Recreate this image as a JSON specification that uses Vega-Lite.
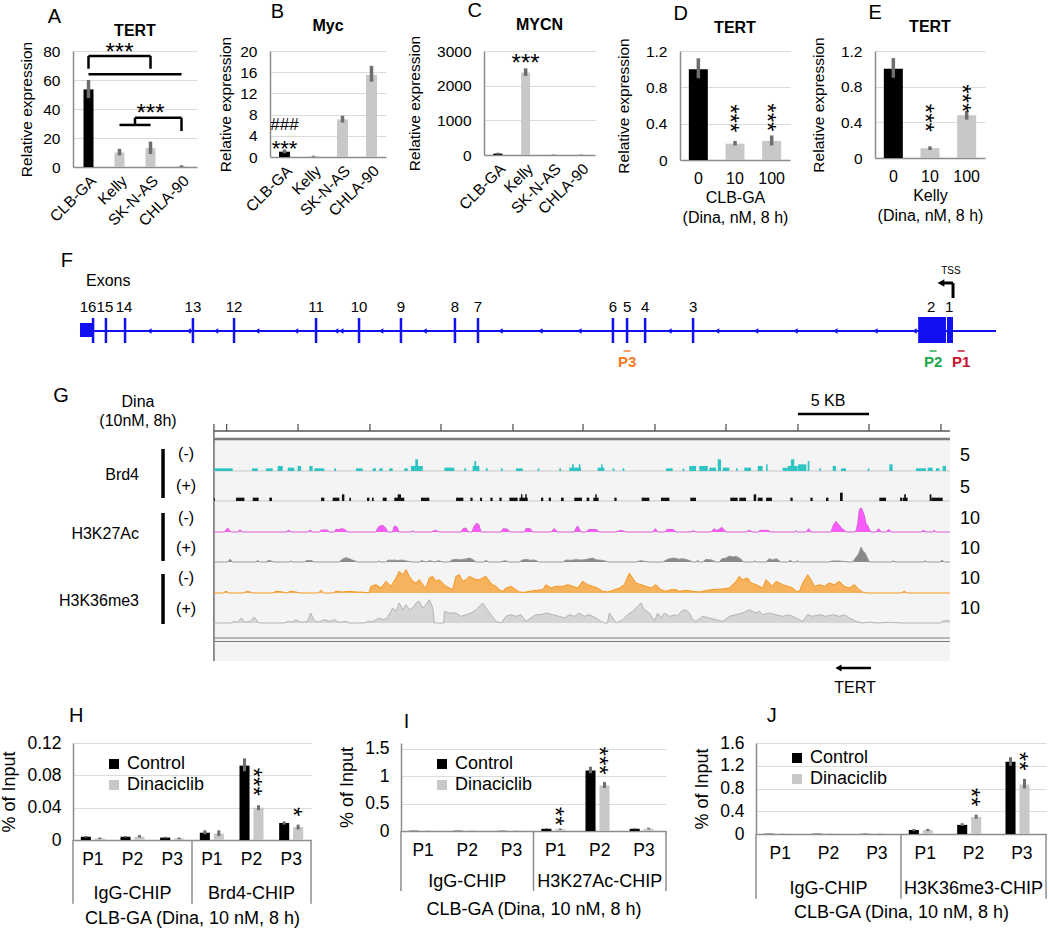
{
"$schema": "https://vega.github.io/schema/vega-lite/v6.json",
"padding": {"left": 0, "top": 1, "right": 0, "bottom": 0},
"background": "white",
"spacing": 10,
"resolve": {"scale": {"color": "independent"}, "legend": {"color": "independent"}},
"config": {
 "font": "Liberation Sans",
 "view": {"stroke": null},
 "axis": {"labelFont": "Liberation Sans", "titleFont": "Liberation Sans", "labelFontSize": 15.5, "titleFontSize": 15.5, "titleFontWeight": "normal", "labelColor": "#000", "titleColor": "#000", "ticks": false, "domainColor": "#8c8c8c", "domainWidth": 1.5, "gridColor": "#dadada", "gridWidth": 1, "labelPadding": 13, "titlePadding": 8},
 "axisX": {"grid": false},
 "axisY": {"grid": true, "tickCount": 20, "labelOverlap": false},
 "title": {"font": "Liberation Sans", "fontSize": 16, "fontWeight": "bold", "color": "#000"},
 "text": {"font": "Liberation Sans", "color": "#000"},
 "legend": {"labelFont": "Liberation Sans", "labelColor": "#000"}
},
"datasets": {
 "a": [{"cell":"CLB-GA","m":53.5,"lo":47.5,"hi":60},{"cell":"Kelly","m":10,"lo":8,"hi":12.5},{"cell":"SK-N-AS","m":13,"lo":9,"hi":17.5},{"cell":"CHLA-90","m":0.6,"lo":0.1,"hi":1.2}],
 "a_hl": [{"c1":"CLB-GA","c2":"SK-N-AS","y":76.6},{"c1":"CLB-GA","c2":"CHLA-90","y":63.9},{"c1":"Kelly","c2":"SK-N-AS","y":29}],
 "a_hl2": [{"c1":"Kelly","c2":"CHLA-90","y":34}],
 "a_vl": [{"c":"CLB-GA","y":67.8,"y2":76.6},{"c":"SK-N-AS","y":67.8,"y2":76.6},{"c":"CHLA-90","y":24.8,"y2":34}],
 "a_vl2": [{"c":"Kelly","y":29,"y2":34}],
 "a_s": [{"c":"Kelly","y":82,"t":"***"},{"c":"SK-N-AS","y":40,"t":"***"}],
 "b": [{"cell":"CLB-GA","m":1,"lo":0.7,"hi":1.4},{"cell":"Kelly","m":0.15,"lo":0.05,"hi":0.25},{"cell":"SK-N-AS","m":7.1,"lo":6.5,"hi":7.8},{"cell":"CHLA-90","m":15.5,"lo":14.2,"hi":17.2}],
 "b_s1": [{"c":"CLB-GA","y":6.1,"t":"###"}],
 "b_s2": [{"c":"CLB-GA","y":2.4,"t":"***"}],
 "c": [{"cell":"CLB-GA","m":40,"lo":15,"hi":65},{"cell":"Kelly","m":2380,"lo":2280,"hi":2500},{"cell":"SK-N-AS","m":6,"lo":1,"hi":12},{"cell":"CHLA-90","m":6,"lo":1,"hi":12}],
 "c_s": [{"c":"Kelly","y":2770,"t":"***"}],
 "d": [{"dose":"0","m":1.0,"lo":0.9,"hi":1.12},{"dose":"10","m":0.18,"lo":0.16,"hi":0.21},{"dose":"100","m":0.21,"lo":0.16,"hi":0.27}],
 "d_s": [{"dose":"10","y":0.46,"t":"***"},{"dose":"100","y":0.47,"t":"***"}],
 "e": [{"dose":"0","m":1.0,"lo":0.9,"hi":1.12},{"dose":"10","m":0.11,"lo":0.09,"hi":0.13},{"dose":"100","m":0.48,"lo":0.43,"hi":0.53}],
 "e_s": [{"dose":"10","y":0.45,"t":"***"},{"dose":"100","y":0.67,"t":"***"}],
 "h": [
  {"cat":"IgG-P1","cond":"Control","m":0.004,"lo":0.003,"hi":0.005},{"cat":"IgG-P1","cond":"Dinaciclib","m":0.002,"lo":0.001,"hi":0.003},
  {"cat":"IgG-P2","cond":"Control","m":0.004,"lo":0.003,"hi":0.005},{"cat":"IgG-P2","cond":"Dinaciclib","m":0.004,"lo":0.003,"hi":0.006},
  {"cat":"IgG-P3","cond":"Control","m":0.003,"lo":0.002,"hi":0.004},{"cat":"IgG-P3","cond":"Dinaciclib","m":0.002,"lo":0.001,"hi":0.003},
  {"cat":"Brd4-P1","cond":"Control","m":0.009,"lo":0.007,"hi":0.012},{"cat":"Brd4-P1","cond":"Dinaciclib","m":0.008,"lo":0.005,"hi":0.012},
  {"cat":"Brd4-P2","cond":"Control","m":0.092,"lo":0.085,"hi":0.101},{"cat":"Brd4-P2","cond":"Dinaciclib","m":0.04,"lo":0.037,"hi":0.043},
  {"cat":"Brd4-P3","cond":"Control","m":0.021,"lo":0.019,"hi":0.023},{"cat":"Brd4-P3","cond":"Dinaciclib","m":0.016,"lo":0.013,"hi":0.019}],
 "h_s": [{"cat":"Brd4-P2","cond":"Dinaciclib","y":0.072,"t":"***"},{"cat":"Brd4-P3","cond":"Dinaciclib","y":0.035,"t":"*"}],
 "h_g": [{"cat":"IgG-P2","g":"IgG-CHIP"},{"cat":"Brd4-P2","g":"Brd4-CHIP"}],
 "h_sep": [{"cat":"IgG-P1"},{"cat":"Brd4-P1"}],
 "h_sepr": [{"cat":"Brd4-P3"}],
 "i": [
  {"cat":"IgG-P1","cond":"Control","m":0.004,"lo":0.002,"hi":0.006},{"cat":"IgG-P1","cond":"Dinaciclib","m":0.003,"lo":0.001,"hi":0.005},
  {"cat":"IgG-P2","cond":"Control","m":0.004,"lo":0.002,"hi":0.006},{"cat":"IgG-P2","cond":"Dinaciclib","m":0.003,"lo":0.001,"hi":0.005},
  {"cat":"IgG-P3","cond":"Control","m":0.003,"lo":0.001,"hi":0.005},{"cat":"IgG-P3","cond":"Dinaciclib","m":0.003,"lo":0.001,"hi":0.005},
  {"cat":"H3K27Ac-P1","cond":"Control","m":0.04,"lo":0.03,"hi":0.05},{"cat":"H3K27Ac-P1","cond":"Dinaciclib","m":0.03,"lo":0.02,"hi":0.045},
  {"cat":"H3K27Ac-P2","cond":"Control","m":1.1,"lo":1.05,"hi":1.17},{"cat":"H3K27Ac-P2","cond":"Dinaciclib","m":0.83,"lo":0.78,"hi":0.89},
  {"cat":"H3K27Ac-P3","cond":"Control","m":0.04,"lo":0.03,"hi":0.05},{"cat":"H3K27Ac-P3","cond":"Dinaciclib","m":0.04,"lo":0.03,"hi":0.06}],
 "i_s": [{"cat":"H3K27Ac-P1","cond":"Dinaciclib","y":0.27,"t":"**"},{"cat":"H3K27Ac-P2","cond":"Dinaciclib","y":1.28,"t":"***"}],
 "i_g": [{"cat":"IgG-P2","g":"IgG-CHIP"},{"cat":"H3K27Ac-P2","g":"H3K27Ac-CHIP"}],
 "i_sep": [{"cat":"IgG-P1"},{"cat":"H3K27Ac-P1"}],
 "i_sepr": [{"cat":"H3K27Ac-P3"}],
 "j": [
  {"cat":"IgG-P1","cond":"Control","m":0.004,"lo":0.002,"hi":0.006},{"cat":"IgG-P1","cond":"Dinaciclib","m":0.003,"lo":0.001,"hi":0.005},
  {"cat":"IgG-P2","cond":"Control","m":0.004,"lo":0.002,"hi":0.006},{"cat":"IgG-P2","cond":"Dinaciclib","m":0.003,"lo":0.001,"hi":0.005},
  {"cat":"IgG-P3","cond":"Control","m":0.003,"lo":0.001,"hi":0.005},{"cat":"IgG-P3","cond":"Dinaciclib","m":0.003,"lo":0.001,"hi":0.005},
  {"cat":"H3K36me3-P1","cond":"Control","m":0.07,"lo":0.05,"hi":0.09},{"cat":"H3K36me3-P1","cond":"Dinaciclib","m":0.07,"lo":0.05,"hi":0.09},
  {"cat":"H3K36me3-P2","cond":"Control","m":0.16,"lo":0.14,"hi":0.19},{"cat":"H3K36me3-P2","cond":"Dinaciclib","m":0.3,"lo":0.27,"hi":0.34},
  {"cat":"H3K36me3-P3","cond":"Control","m":1.27,"lo":1.2,"hi":1.35},{"cat":"H3K36me3-P3","cond":"Dinaciclib","m":0.87,"lo":0.8,"hi":0.97}],
 "j_s": [{"cat":"H3K36me3-P2","cond":"Dinaciclib","y":0.65,"t":"**"},{"cat":"H3K36me3-P3","cond":"Dinaciclib","y":1.28,"t":"**"}],
 "j_g": [{"cat":"IgG-P2","g":"IgG-CHIP"},{"cat":"H3K36me3-P2","g":"H3K36me3-CHIP"}],
 "j_sep": [{"cat":"IgG-P1"},{"cat":"H3K36me3-P1"}],
 "j_sepr": [{"cat":"H3K36me3-P3"}],
 "gene_f": [{"kb":0,"kb2":44.12}],
 "gene_g": [{"kb":0,"kb2":41.9}],
 "exons": [{"kb":0.63,"n":"16"},{"kb":1.25,"n":"15"},{"kb":2.17,"n":"14"},{"kb":5.44,"n":"13"},{"kb":7.42,"n":"12"},{"kb":11.37,"n":"11"},{"kb":13.44,"n":"10"},{"kb":15.46,"n":"9"},{"kb":18.06,"n":"8"},{"kb":19.17,"n":"7"},{"kb":25.67,"n":"6"},{"kb":26.35,"n":"5"},{"kb":27.22,"n":"4"},{"kb":29.53,"n":"3"}],
 "exon_lbl": [{"kb":0.39,"n":"16"},{"kb":1.2,"n":"15"},{"kb":2.12,"n":"14"},{"kb":5.44,"n":"13"},{"kb":7.42,"n":"12"},{"kb":11.37,"n":"11"},{"kb":13.44,"n":"10"},{"kb":15.46,"n":"9"},{"kb":18.06,"n":"8"},{"kb":19.17,"n":"7"},{"kb":25.67,"n":"6"},{"kb":26.35,"n":"5"},{"kb":27.22,"n":"4"},{"kb":29.53,"n":"3"},{"kb":41.0,"n":"2"},{"kb":41.86,"n":"1"}],
 "utr": [{"kb":0,"kb2":0.63}],
 "cds": [{"kb":40.37,"kb2":41.71},{"kb":41.76,"kb2":42.05}],
 "chev": [{"kb":3.34},{"kb":5.23},{"kb":6.55},{"kb":8.53},{"kb":10.4},{"kb":12.33},{"kb":12.58},{"kb":14.5},{"kb":16.59},{"kb":20.25},{"kb":22.17},{"kb":24.05},{"kb":28.39},{"kb":30.68},{"kb":32.56},{"kb":34.46},{"kb":36.38},{"kb":38.31},{"kb":40.19}],
 "f_letter": [{"kb":-0.63,"t":"F"}],
 "f_exons": [{"kb":0.29,"t":"Exons"}],
 "tss": [{"kb":42.05,"kb2":41.6}],
 "tss_head": [{"kb":41.47}],
 "tss_lbl": [{"kb":41.95,"t":"TSS"}],
 "probes": [{"kb":26.35,"p":"P3"},{"kb":41.09,"p":"P2"},{"kb":42.44,"p":"P1"}],
 "g_bg": [{"kb":-3.92,"kb2":47.55,"y":25.7,"y2":3.5}],
 "g_black": [{"kb":-7.48,"kb2":-7.48,"y":24.7,"y2":19.8},{"kb":-7.48,"kb2":-7.48,"y":18.3,"y2":13.5},{"kb":-7.48,"kb2":-7.48,"y":12.2,"y2":7.2}],
 "g_black2": [{"kb":36.92,"kb2":41.89,"y":28.2,"y2":28.2},{"kb":39.9,"kb2":42.03,"y":2.8,"y2":2.8}],
 "g_ruler": [{"kb":-3.92,"kb2":47.55,"y":26.5,"y2":26.5},{"kb":-3.92,"kb2":-3.92,"y":27.2,"y2":3.5},
  {"kb":-3.03,"kb2":-3.03,"y":27.2,"y2":26.5},{"kb":1.96,"kb2":1.96,"y":27.2,"y2":26.5},{"kb":6.99,"kb2":6.99,"y":27.2,"y2":26.5},{"kb":11.96,"kb2":11.96,"y":27.2,"y2":26.5},{"kb":16.99,"kb2":16.99,"y":27.2,"y2":26.5},{"kb":21.89,"kb2":21.89,"y":27.2,"y2":26.5},{"kb":26.92,"kb2":26.92,"y":27.2,"y2":26.5},{"kb":31.89,"kb2":31.89,"y":27.2,"y2":26.5},{"kb":36.92,"kb2":36.92,"y":27.2,"y2":26.5},{"kb":41.89,"kb2":41.89,"y":27.2,"y2":26.5},{"kb":46.92,"kb2":46.92,"y":27.2,"y2":26.5}],
 "g_top": [{"kb":-3.92,"kb2":47.55,"y":25.7,"y2":25.7}],
 "g_bottom": [{"kb":-3.92,"kb2":47.55,"y":5.8,"y2":5.8},{"kb":-3.92,"kb2":47.55,"y":5.45,"y2":5.45}],
 "g_base": [{"kb":-3.92,"kb2":47.55,"y":22.5,"y2":22.5},{"kb":-3.92,"kb2":47.55,"y":19.5,"y2":19.5}],
 "g_head": [{"kb":39.75,"y":2.8}],
 "g_letter": [{"kb":-14.62,"y":30.0,"t":"G"}],
 "g_tc": [{"kb":-9.23,"y":29.4,"t":"Dina"},{"kb":-9.23,"y":27.5,"t":"(10nM, 8h)"},{"kb":39.02,"y":29.5,"t":"5 KB"},{"kb":-5.87,"y":24.2,"t":"(-)"},{"kb":-5.87,"y":21.0,"t":"(+)"},{"kb":-5.87,"y":17.8,"t":"(-)"},{"kb":-5.87,"y":14.8,"t":"(+)"},{"kb":-5.87,"y":11.8,"t":"(-)"},{"kb":-5.87,"y":8.7,"t":"(+)"},{"kb":40.91,"y":0.8,"t":"TERT"}],
 "g_tr": [{"kb":-9.16,"y":22.1,"t":"Brd4"},{"kb":-9.16,"y":16.2,"t":"H3K27Ac"},{"kb":-9.16,"y":9.5,"t":"H3K36me3"}],
 "g_scale": [{"kb":48.25,"y":24.0,"t":"5"},{"kb":48.25,"y":20.8,"t":"5"},{"kb":48.25,"y":17.7,"t":"10"},{"kb":48.25,"y":14.7,"t":"10"},{"kb":48.25,"y":11.7,"t":"10"},{"kb":48.25,"y":8.7,"t":"10"}],
 "b4n": [{"kb":-3.89,"kb2":-2.61,"v":0.48},{"kb":-1.26,"kb2":-0.86,"v":0.48},{"kb":-0.28,"kb2":0.19,"v":0.48},{"kb":0.54,"kb2":0.89,"v":0.9},{"kb":1.24,"kb2":1.7,"v":0.6},{"kb":1.93,"kb2":2.17,"v":0.9},{"kb":2.75,"kb2":2.98,"v":0.9},{"kb":3.1,"kb2":3.8,"v":0.48},{"kb":4.5,"kb2":4.62,"v":0.48},{"kb":6.01,"kb2":6.48,"v":0.48},{"kb":7.18,"kb2":7.41,"v":0.48},{"kb":7.65,"kb2":7.88,"v":0.48},{"kb":8.34,"kb2":8.58,"v":0.48},{"kb":9.39,"kb2":9.63,"v":0.48},{"kb":9.86,"kb2":10.68,"v":0.9},{"kb":10.16,"kb2":10.35,"v":2.08},{"kb":12.19,"kb2":12.89,"v":0.6},{"kb":13.59,"kb2":13.71,"v":0.48},{"kb":14.17,"kb2":14.64,"v":0.9},{"kb":14.29,"kb2":14.41,"v":1.79},{"kb":15.1,"kb2":15.22,"v":0.48},{"kb":16.15,"kb2":16.27,"v":0.48},{"kb":17.2,"kb2":17.67,"v":0.48},{"kb":18.72,"kb2":18.83,"v":0.48},{"kb":20.23,"kb2":20.35,"v":0.48},{"kb":20.93,"kb2":21.75,"v":0.6},{"kb":21.12,"kb2":21.24,"v":1.19},{"kb":21.59,"kb2":21.7,"v":1.19},{"kb":22.91,"kb2":23.38,"v":0.6},{"kb":23.15,"kb2":23.26,"v":1.19},{"kb":23.96,"kb2":24.08,"v":0.48},{"kb":24.66,"kb2":24.78,"v":0.48},{"kb":27.69,"kb2":28.16,"v":0.48},{"kb":28.86,"kb2":28.97,"v":0.48},{"kb":29.32,"kb2":29.79,"v":0.9},{"kb":30.02,"kb2":30.61,"v":0.9},{"kb":30.72,"kb2":31.19,"v":0.6},{"kb":31.31,"kb2":31.54,"v":2.08},{"kb":31.66,"kb2":32.12,"v":0.6},{"kb":32.59,"kb2":32.7,"v":0.48},{"kb":33.17,"kb2":33.64,"v":0.6},{"kb":34.11,"kb2":34.45,"v":0.9},{"kb":34.69,"kb2":34.8,"v":1.19},{"kb":35.85,"kb2":36.2,"v":0.6},{"kb":36.2,"kb2":36.9,"v":0.9},{"kb":36.43,"kb2":36.66,"v":2.08},{"kb":36.92,"kb2":37.51,"v":1.19},{"kb":37.6,"kb2":37.72,"v":1.79},{"kb":38.42,"kb2":38.53,"v":0.48},{"kb":39.35,"kb2":39.58,"v":0.9},{"kb":39.93,"kb2":40.28,"v":0.48},{"kb":41.8,"kb2":41.91,"v":0.48},{"kb":43.31,"kb2":43.54,"v":1.19},{"kb":45.17,"kb2":45.87,"v":0.48},{"kb":45.99,"kb2":46.34,"v":0.6},{"kb":46.57,"kb2":46.81,"v":0.48},{"kb":47.04,"kb2":47.27,"v":0.9}],
 "b4p": [{"kb":-3.92,"kb2":-3.85,"v":0.48},{"kb":-2.38,"kb2":-1.79,"v":0.6},{"kb":-1.21,"kb2":-0.79,"v":0.6},{"kb":-0.05,"kb2":0.14,"v":0.6},{"kb":3.57,"kb2":3.8,"v":0.6},{"kb":4.38,"kb2":4.85,"v":0.6},{"kb":5.03,"kb2":5.2,"v":1.19},{"kb":5.55,"kb2":5.66,"v":0.6},{"kb":6.78,"kb2":6.95,"v":0.6},{"kb":7.13,"kb2":7.25,"v":0.6},{"kb":7.88,"kb2":8.16,"v":0.6},{"kb":8.69,"kb2":9.39,"v":0.6},{"kb":8.93,"kb2":9.16,"v":1.19},{"kb":10.56,"kb2":11.14,"v":0.6},{"kb":13.01,"kb2":13.52,"v":0.6},{"kb":14.01,"kb2":14.17,"v":0.6},{"kb":14.69,"kb2":14.83,"v":0.6},{"kb":15.41,"kb2":15.57,"v":0.6},{"kb":16.04,"kb2":16.2,"v":0.6},{"kb":16.74,"kb2":17.32,"v":0.6},{"kb":17.44,"kb2":18.02,"v":0.6},{"kb":17.55,"kb2":17.65,"v":1.19},{"kb":17.85,"kb2":17.95,"v":1.19},{"kb":18.95,"kb2":19.11,"v":0.6},{"kb":19.49,"kb2":19.65,"v":0.6},{"kb":20.35,"kb2":20.54,"v":0.6},{"kb":21.28,"kb2":21.82,"v":0.6},{"kb":22.14,"kb2":22.33,"v":0.6},{"kb":22.61,"kb2":22.98,"v":0.6},{"kb":22.75,"kb2":22.85,"v":1.19},{"kb":24.08,"kb2":24.24,"v":0.6},{"kb":25.99,"kb2":26.53,"v":0.6},{"kb":27.34,"kb2":27.93,"v":0.6},{"kb":29.39,"kb2":29.79,"v":0.6},{"kb":32.19,"kb2":32.7,"v":0.6},{"kb":32.82,"kb2":33.29,"v":0.6},{"kb":33.82,"kb2":34.0,"v":1.19},{"kb":34.11,"kb2":34.45,"v":0.6},{"kb":34.69,"kb2":35.1,"v":0.6},{"kb":36.39,"kb2":36.55,"v":0.6},{"kb":37.79,"kb2":37.95,"v":0.6},{"kb":38.88,"kb2":39.05,"v":0.6},{"kb":39.86,"kb2":40.05,"v":1.49},{"kb":42.61,"kb2":43.08,"v":0.6},{"kb":44.06,"kb2":44.2,"v":0.6},{"kb":44.24,"kb2":44.59,"v":0.6},{"kb":44.35,"kb2":44.47,"v":1.19},{"kb":46.13,"kb2":46.25,"v":1.19},{"kb":46.25,"kb2":47.04,"v":0.6}],
 "k27n": [{"kb":-3.92,"v":0},{"kb":-3.19,"v":0},{"kb":-2.96,"v":1.43},{"kb":-2.73,"v":0},{"kb":-2.26,"v":0},{"kb":-2.1,"v":0.71},{"kb":-1.91,"v":0},{"kb":1.12,"v":0},{"kb":1.31,"v":0.6},{"kb":1.47,"v":0},{"kb":2.63,"v":0},{"kb":2.82,"v":0.6},{"kb":2.98,"v":0},{"kb":3.45,"v":0},{"kb":3.6,"v":0.71},{"kb":4.0,"v":0.71},{"kb":4.15,"v":0},{"kb":4.5,"v":0},{"kb":4.62,"v":1.0},{"kb":4.85,"v":0.8},{"kb":4.97,"v":1.19},{"kb":5.2,"v":1.0},{"kb":5.43,"v":0},{"kb":7.41,"v":0},{"kb":7.55,"v":1.6},{"kb":7.7,"v":2.14},{"kb":7.88,"v":2.38},{"kb":8.0,"v":1.9},{"kb":8.11,"v":1.2},{"kb":8.23,"v":0},{"kb":8.58,"v":0},{"kb":8.66,"v":1.9},{"kb":8.76,"v":2.14},{"kb":8.9,"v":1.7},{"kb":9.0,"v":0},{"kb":9.86,"v":0},{"kb":9.98,"v":0.48},{"kb":10.09,"v":0},{"kb":11.26,"v":0},{"kb":11.56,"v":0.6},{"kb":11.84,"v":0},{"kb":13.36,"v":0},{"kb":13.5,"v":1.2},{"kb":13.7,"v":1.43},{"kb":13.89,"v":0},{"kb":14.13,"v":0},{"kb":14.25,"v":1.8},{"kb":14.41,"v":2.98},{"kb":14.59,"v":2.8},{"kb":14.76,"v":0},{"kb":16.15,"v":0},{"kb":16.3,"v":1.19},{"kb":16.6,"v":1.0},{"kb":16.81,"v":0},{"kb":17.79,"v":0},{"kb":17.9,"v":1.19},{"kb":18.2,"v":1.19},{"kb":18.37,"v":0},{"kb":19.65,"v":0},{"kb":19.88,"v":1.19},{"kb":20.12,"v":0},{"kb":21.28,"v":0},{"kb":21.45,"v":1.8},{"kb":21.52,"v":2.14},{"kb":21.75,"v":0},{"kb":22.1,"v":0},{"kb":22.3,"v":0.95},{"kb":22.8,"v":0.9},{"kb":23.03,"v":0},{"kb":24.2,"v":0},{"kb":24.55,"v":0.6},{"kb":24.9,"v":0},{"kb":26.76,"v":0},{"kb":26.95,"v":1.19},{"kb":27.11,"v":0},{"kb":27.58,"v":0},{"kb":27.8,"v":0.95},{"kb":28.2,"v":0.9},{"kb":28.39,"v":0},{"kb":29.44,"v":0},{"kb":29.6,"v":0.48},{"kb":29.79,"v":0},{"kb":30.84,"v":0},{"kb":31.07,"v":1.19},{"kb":31.2,"v":0.5},{"kb":31.42,"v":1.0},{"kb":31.6,"v":1.67},{"kb":31.89,"v":0},{"kb":33.29,"v":0},{"kb":33.52,"v":0.6},{"kb":33.75,"v":0},{"kb":34.1,"v":0},{"kb":34.3,"v":0.6},{"kb":34.8,"v":0.6},{"kb":35.03,"v":0},{"kb":36.67,"v":0},{"kb":36.78,"v":0.48},{"kb":36.9,"v":0},{"kb":37.48,"v":0},{"kb":37.67,"v":1.19},{"kb":37.83,"v":0},{"kb":39.23,"v":0},{"kb":39.4,"v":2.5},{"kb":39.58,"v":3.81},{"kb":39.81,"v":2.4},{"kb":40.0,"v":1.2},{"kb":40.16,"v":0.6},{"kb":40.3,"v":0},{"kb":40.86,"v":0},{"kb":41.0,"v":0.6},{"kb":41.1,"v":3.0},{"kb":41.21,"v":7.74},{"kb":41.3,"v":8.57},{"kb":41.38,"v":8.4},{"kb":41.56,"v":5.95},{"kb":41.68,"v":3.0},{"kb":41.79,"v":2.38},{"kb":41.95,"v":0.6},{"kb":42.03,"v":0},{"kb":42.38,"v":0},{"kb":42.56,"v":1.19},{"kb":42.73,"v":0},{"kb":43.08,"v":0},{"kb":43.26,"v":0.95},{"kb":43.43,"v":0},{"kb":45.53,"v":0},{"kb":45.71,"v":0.6},{"kb":45.87,"v":0},{"kb":46.34,"v":0},{"kb":46.45,"v":0.6},{"kb":46.57,"v":0},{"kb":47.55,"v":0}],
 "k27p": [{"kb":-3.92,"v":0},{"kb":-2.96,"v":0},{"kb":-2.8,"v":0.95},{"kb":-2.61,"v":0},{"kb":-0.98,"v":0},{"kb":-0.86,"v":0.6},{"kb":-0.75,"v":0},{"kb":-0.28,"v":0},{"kb":-0.1,"v":0.6},{"kb":0.3,"v":0},{"kb":1.35,"v":0},{"kb":1.47,"v":0.36},{"kb":1.59,"v":0},{"kb":2.4,"v":0},{"kb":2.6,"v":0.6},{"kb":2.9,"v":0.5},{"kb":3.1,"v":0},{"kb":4.85,"v":0},{"kb":5.0,"v":0.8},{"kb":5.31,"v":1.55},{"kb":5.55,"v":1.2},{"kb":5.8,"v":0.6},{"kb":6.13,"v":0},{"kb":7.53,"v":0},{"kb":7.6,"v":0.36},{"kb":7.77,"v":0},{"kb":8.11,"v":0},{"kb":8.25,"v":0.71},{"kb":8.5,"v":0.6},{"kb":8.7,"v":0.71},{"kb":8.9,"v":0.5},{"kb":9.2,"v":0.71},{"kb":9.5,"v":0.4},{"kb":9.98,"v":0},{"kb":10.44,"v":0},{"kb":10.6,"v":0.48},{"kb":10.9,"v":0},{"kb":11.2,"v":0.48},{"kb":11.5,"v":0},{"kb":11.8,"v":0.48},{"kb":12.07,"v":0},{"kb":12.54,"v":0},{"kb":12.7,"v":0.71},{"kb":13.0,"v":0.95},{"kb":13.3,"v":0.8},{"kb":13.7,"v":1.1},{"kb":13.94,"v":1.43},{"kb":14.2,"v":0.8},{"kb":14.41,"v":0},{"kb":14.87,"v":0},{"kb":15.1,"v":0.48},{"kb":15.34,"v":0},{"kb":16.15,"v":0},{"kb":16.4,"v":0.48},{"kb":16.74,"v":0},{"kb":17.44,"v":0},{"kb":17.6,"v":0.6},{"kb":17.9,"v":0.95},{"kb":18.2,"v":0.6},{"kb":18.5,"v":0.7},{"kb":18.83,"v":0},{"kb":20.47,"v":0},{"kb":20.7,"v":0.7},{"kb":21.0,"v":0.6},{"kb":21.4,"v":0.83},{"kb":21.8,"v":0.7},{"kb":22.1,"v":0.9},{"kb":22.56,"v":1.43},{"kb":22.8,"v":0.8},{"kb":23.2,"v":0.6},{"kb":23.73,"v":0},{"kb":25.59,"v":0},{"kb":25.9,"v":0.48},{"kb":26.53,"v":0},{"kb":27.46,"v":0},{"kb":27.8,"v":1.0},{"kb":28.2,"v":1.43},{"kb":28.62,"v":1.0},{"kb":28.86,"v":1.19},{"kb":29.3,"v":0.6},{"kb":29.56,"v":0},{"kb":29.79,"v":0},{"kb":29.9,"v":0.6},{"kb":30.02,"v":0},{"kb":30.26,"v":0},{"kb":30.5,"v":0.95},{"kb":30.9,"v":0.7},{"kb":31.19,"v":0},{"kb":31.42,"v":0},{"kb":31.6,"v":1.2},{"kb":31.89,"v":1.4},{"kb":32.12,"v":2.14},{"kb":32.35,"v":1.8},{"kb":32.6,"v":2.0},{"kb":32.9,"v":1.2},{"kb":33.1,"v":0},{"kb":33.75,"v":0},{"kb":33.87,"v":0.36},{"kb":33.99,"v":0},{"kb":34.69,"v":0},{"kb":34.9,"v":1.19},{"kb":35.15,"v":0.7},{"kb":35.4,"v":1.19},{"kb":35.73,"v":0},{"kb":36.2,"v":0},{"kb":36.4,"v":0.6},{"kb":36.55,"v":0},{"kb":36.78,"v":0},{"kb":36.9,"v":0.48},{"kb":37.02,"v":0},{"kb":39.11,"v":0},{"kb":39.3,"v":0.36},{"kb":39.8,"v":0.36},{"kb":40.51,"v":0},{"kb":40.75,"v":0},{"kb":40.9,"v":1.19},{"kb":41.1,"v":2.4},{"kb":41.21,"v":3.6},{"kb":41.33,"v":5.36},{"kb":41.44,"v":4.2},{"kb":41.6,"v":3.3},{"kb":41.75,"v":1.8},{"kb":41.91,"v":0},{"kb":43.43,"v":0},{"kb":43.6,"v":0.36},{"kb":43.78,"v":0},{"kb":45.64,"v":0},{"kb":45.8,"v":0.36},{"kb":45.99,"v":0},{"kb":46.81,"v":0},{"kb":47.0,"v":0.6},{"kb":47.15,"v":0},{"kb":47.55,"v":0}],
 "k36n": [{"kb":-3.92,"v":0},{"kb":-3.3,"v":0},{"kb":-3.08,"v":0.6},{"kb":-2.84,"v":0},{"kb":-1.91,"v":0},{"kb":-1.56,"v":0.6},{"kb":-1.2,"v":0},{"kb":0.2,"v":0},{"kb":0.42,"v":0.6},{"kb":0.89,"v":0.36},{"kb":1.2,"v":0},{"kb":1.4,"v":0.6},{"kb":1.82,"v":0.36},{"kb":2.1,"v":0},{"kb":3.4,"v":0},{"kb":3.56,"v":0.95},{"kb":3.75,"v":0},{"kb":4.4,"v":0},{"kb":4.62,"v":0.6},{"kb":5.08,"v":0.36},{"kb":5.55,"v":0.6},{"kb":6.0,"v":0.36},{"kb":6.5,"v":0.3},{"kb":6.92,"v":0},{"kb":7.06,"v":2.38},{"kb":7.41,"v":2.98},{"kb":7.76,"v":1.79},{"kb":8.11,"v":4.17},{"kb":8.46,"v":2.38},{"kb":8.81,"v":5.36},{"kb":9.04,"v":7.74},{"kb":9.28,"v":6.55},{"kb":9.51,"v":8.33},{"kb":9.74,"v":5.95},{"kb":9.98,"v":4.17},{"kb":10.21,"v":3.57},{"kb":10.44,"v":4.76},{"kb":10.68,"v":2.98},{"kb":10.91,"v":1.79},{"kb":11.14,"v":5.36},{"kb":11.38,"v":5.95},{"kb":11.61,"v":4.17},{"kb":11.84,"v":4.76},{"kb":12.07,"v":3.57},{"kb":12.31,"v":2.38},{"kb":12.54,"v":1.79},{"kb":12.77,"v":1.19},{"kb":13.01,"v":5.95},{"kb":13.24,"v":6.55},{"kb":13.47,"v":4.17},{"kb":13.71,"v":4.76},{"kb":13.94,"v":5.95},{"kb":14.17,"v":5.36},{"kb":14.41,"v":4.76},{"kb":14.64,"v":4.76},{"kb":14.87,"v":5.36},{"kb":15.1,"v":5.95},{"kb":15.34,"v":4.17},{"kb":15.57,"v":2.98},{"kb":15.8,"v":2.38},{"kb":16.04,"v":1.19},{"kb":16.27,"v":0.6},{"kb":16.5,"v":1.79},{"kb":16.85,"v":2.38},{"kb":17.2,"v":1.19},{"kb":17.44,"v":0.36},{"kb":17.79,"v":0.24},{"kb":18.14,"v":0.6},{"kb":18.6,"v":0.95},{"kb":19.07,"v":1.19},{"kb":19.3,"v":2.98},{"kb":19.65,"v":1.79},{"kb":20.0,"v":2.38},{"kb":20.47,"v":2.38},{"kb":20.82,"v":2.98},{"kb":21.17,"v":2.38},{"kb":21.52,"v":1.79},{"kb":21.86,"v":4.17},{"kb":22.21,"v":2.98},{"kb":22.56,"v":2.38},{"kb":22.91,"v":1.79},{"kb":23.26,"v":0.6},{"kb":23.61,"v":0.36},{"kb":23.96,"v":0.95},{"kb":24.43,"v":1.79},{"kb":24.78,"v":2.98},{"kb":25.13,"v":7.14},{"kb":25.36,"v":5.36},{"kb":25.59,"v":3.57},{"kb":25.94,"v":2.98},{"kb":26.29,"v":2.38},{"kb":26.64,"v":1.79},{"kb":26.99,"v":2.98},{"kb":27.34,"v":1.19},{"kb":27.69,"v":0.6},{"kb":28.04,"v":1.19},{"kb":28.39,"v":1.19},{"kb":28.62,"v":0.6},{"kb":29.09,"v":0.95},{"kb":29.56,"v":0.6},{"kb":30.02,"v":0.36},{"kb":30.84,"v":1.19},{"kb":31.66,"v":1.43},{"kb":32.12,"v":1.79},{"kb":32.59,"v":4.17},{"kb":32.82,"v":5.95},{"kb":33.05,"v":4.76},{"kb":33.4,"v":5.36},{"kb":33.64,"v":3.57},{"kb":33.99,"v":2.98},{"kb":34.45,"v":1.79},{"kb":34.69,"v":4.76},{"kb":34.92,"v":3.57},{"kb":35.15,"v":2.38},{"kb":35.38,"v":4.17},{"kb":35.62,"v":3.57},{"kb":35.85,"v":2.98},{"kb":36.2,"v":2.38},{"kb":36.55,"v":1.79},{"kb":36.78,"v":0.6},{"kb":37.02,"v":0.6},{"kb":37.25,"v":3.57},{"kb":37.6,"v":6.55},{"kb":37.83,"v":4.76},{"kb":38.07,"v":2.38},{"kb":38.42,"v":2.98},{"kb":38.77,"v":2.38},{"kb":39.11,"v":3.57},{"kb":39.46,"v":2.98},{"kb":39.81,"v":4.17},{"kb":40.16,"v":2.38},{"kb":40.51,"v":1.79},{"kb":40.86,"v":2.98},{"kb":41.21,"v":1.19},{"kb":41.44,"v":0.36},{"kb":41.68,"v":0},{"kb":44.13,"v":0},{"kb":44.36,"v":0.6},{"kb":44.59,"v":0},{"kb":47.55,"v":0}],
 "k36p": [{"kb":-3.92,"v":0},{"kb":-2.7,"v":0},{"kb":-2.5,"v":0.6},{"kb":-2.3,"v":0.2},{"kb":-2.0,"v":1.79},{"kb":-1.75,"v":0.3},{"kb":-1.4,"v":0.5},{"kb":-1.1,"v":2.14},{"kb":-0.85,"v":0.3},{"kb":-0.6,"v":0},{"kb":1.0,"v":0},{"kb":1.3,"v":0.6},{"kb":1.5,"v":0.3},{"kb":1.82,"v":1.19},{"kb":2.1,"v":0.3},{"kb":2.6,"v":0.5},{"kb":2.85,"v":3.57},{"kb":3.1,"v":0.8},{"kb":3.4,"v":0.3},{"kb":3.8,"v":1.19},{"kb":4.2,"v":0.6},{"kb":4.5,"v":1.19},{"kb":4.85,"v":0.2},{"kb":5.31,"v":0.6},{"kb":5.55,"v":0},{"kb":6.6,"v":0},{"kb":6.9,"v":0.6},{"kb":7.18,"v":0.5},{"kb":7.41,"v":1.19},{"kb":7.65,"v":1.79},{"kb":7.9,"v":1.2},{"kb":8.2,"v":1.79},{"kb":8.58,"v":5.36},{"kb":8.81,"v":4.17},{"kb":9.04,"v":7.14},{"kb":9.28,"v":4.76},{"kb":9.51,"v":6.55},{"kb":9.74,"v":4.76},{"kb":9.98,"v":5.36},{"kb":10.21,"v":7.14},{"kb":10.44,"v":7.74},{"kb":10.68,"v":5.36},{"kb":10.91,"v":6.55},{"kb":11.14,"v":8.33},{"kb":11.38,"v":5.36},{"kb":11.5,"v":0},{"kb":12.15,"v":0},{"kb":12.19,"v":4.17},{"kb":12.54,"v":3.57},{"kb":13.01,"v":3.57},{"kb":13.36,"v":2.38},{"kb":13.71,"v":2.98},{"kb":14.06,"v":3.57},{"kb":14.41,"v":4.76},{"kb":14.64,"v":5.95},{"kb":14.87,"v":7.14},{"kb":15.1,"v":5.36},{"kb":15.45,"v":2.98},{"kb":15.8,"v":0.6},{"kb":16.15,"v":0},{"kb":16.5,"v":2.38},{"kb":16.85,"v":2.98},{"kb":17.2,"v":2.38},{"kb":17.55,"v":2.98},{"kb":17.9,"v":0.6},{"kb":18.25,"v":1.79},{"kb":18.6,"v":2.98},{"kb":18.95,"v":2.98},{"kb":19.3,"v":3.57},{"kb":19.77,"v":2.98},{"kb":20.23,"v":2.38},{"kb":20.58,"v":1.79},{"kb":20.93,"v":2.98},{"kb":21.28,"v":2.38},{"kb":21.63,"v":3.57},{"kb":21.98,"v":2.38},{"kb":22.33,"v":2.98},{"kb":22.8,"v":1.79},{"kb":23.15,"v":0.6},{"kb":23.38,"v":0},{"kb":23.6,"v":0},{"kb":23.73,"v":3.57},{"kb":23.96,"v":1.79},{"kb":24.2,"v":0},{"kb":24.66,"v":1.19},{"kb":25.01,"v":2.98},{"kb":25.36,"v":4.17},{"kb":25.71,"v":5.95},{"kb":25.94,"v":7.14},{"kb":26.17,"v":4.76},{"kb":26.53,"v":3.57},{"kb":26.88,"v":0.6},{"kb":27.11,"v":3.57},{"kb":27.34,"v":1.79},{"kb":27.58,"v":3.57},{"kb":27.93,"v":2.38},{"kb":28.39,"v":2.98},{"kb":28.5,"v":2.38},{"kb":28.75,"v":4.17},{"kb":29.09,"v":4.76},{"kb":29.32,"v":3.57},{"kb":29.56,"v":1.19},{"kb":29.79,"v":0.6},{"kb":30.26,"v":2.38},{"kb":30.72,"v":1.79},{"kb":31.19,"v":1.19},{"kb":31.66,"v":0.6},{"kb":32.12,"v":2.38},{"kb":32.59,"v":2.98},{"kb":33.05,"v":3.57},{"kb":33.52,"v":4.76},{"kb":33.99,"v":3.57},{"kb":34.22,"v":4.17},{"kb":34.45,"v":2.98},{"kb":34.92,"v":3.57},{"kb":35.38,"v":2.98},{"kb":35.85,"v":2.38},{"kb":36.32,"v":2.98},{"kb":36.78,"v":1.79},{"kb":37.25,"v":0.6},{"kb":37.6,"v":2.98},{"kb":37.95,"v":2.38},{"kb":38.42,"v":2.98},{"kb":38.88,"v":2.38},{"kb":39.35,"v":2.98},{"kb":39.81,"v":2.38},{"kb":40.16,"v":2.98},{"kb":40.51,"v":1.79},{"kb":40.98,"v":0.6},{"kb":41.44,"v":0},{"kb":41.91,"v":0.36},{"kb":42.38,"v":0},{"kb":43.31,"v":0.24},{"kb":44.24,"v":0},{"kb":46.9,"v":0},{"kb":47.04,"v":0.6},{"kb":47.27,"v":0.95},{"kb":47.55,"v":0.6}]
},
"vconcat": [
 {"hconcat": [
  {"title": {"text": "A", "anchor": "start", "fontSize": 20, "fontWeight": "normal", "baseline": "top", "dx": 28, "offset": -4},
   "vconcat": [{
    "width": 124, "height": 116,
    "title": {"text": "TERT", "offset": 2},
    "encoding": {"x": {"field": "cell", "type": "nominal", "scale": {"domain": ["CLB-GA","Kelly","SK-N-AS","CHLA-90"], "paddingInner": 0, "paddingOuter": 0}, "axis": {"title": null, "labelAngle": -45, "labelPadding": 6}}},
    "layer": [
     {"data": {"name": "a"}, "mark": {"type": "bar", "width": 10}, "encoding": {"y": {"field": "m", "type": "quantitative", "scale": {"domain": [0, 80]}, "axis": {"values": [0,20,40,60,80], "tickCount": 20, "format": ".4~g", "title": "Relative expression", "titlePadding": 8}}, "color": {"condition": {"test": "datum.cell === 'CLB-GA'", "value": "#000000"}, "value": "#c8c8c8"}}},
     {"data": {"name": "a"}, "mark": {"type": "rule", "strokeWidth": 3.5, "color": "#6e6e6e"}, "encoding": {"y": {"field": "lo", "type": "quantitative"}, "y2": {"field": "hi"}}},
     {"data": {"name": "a_hl"}, "mark": {"type": "rule", "strokeWidth": 2.5, "color": "#000000"}, "encoding": {"x": {"field": "c1", "type": "nominal"}, "x2": {"field": "c2"}, "y": {"field": "y", "type": "quantitative"}}},
     {"data": {"name": "a_hl2"}, "mark": {"type": "rule", "strokeWidth": 2.5, "color": "#000000"}, "encoding": {"x": {"field": "c1", "type": "nominal", "bandPosition": 1}, "x2": {"field": "c2"}, "y": {"field": "y", "type": "quantitative"}}},
     {"data": {"name": "a_vl"}, "mark": {"type": "rule", "strokeWidth": 2.5, "color": "#000000"}, "encoding": {"x": {"field": "c", "type": "nominal"}, "y": {"field": "y", "type": "quantitative"}, "y2": {"field": "y2"}}},
     {"data": {"name": "a_vl2"}, "mark": {"type": "rule", "strokeWidth": 2.5, "color": "#000000"}, "encoding": {"x": {"field": "c", "type": "nominal", "bandPosition": 1}, "y": {"field": "y", "type": "quantitative"}, "y2": {"field": "y2"}}},
     {"data": {"name": "a_s"}, "mark": {"type": "text", "fontSize": 24, "baseline": "middle", "dy": 5}, "encoding": {"x": {"field": "c", "type": "nominal"}, "y": {"field": "y", "type": "quantitative"}, "text": {"field": "t"}}}
    ]
   }]},
  {"title": {"text": "B", "anchor": "start", "fontSize": 20, "fontWeight": "normal", "baseline": "top", "dx": 52, "offset": -4},
   "vconcat": [{
    "width": 116, "height": 106,
    "title": {"text": "Myc", "offset": 2},
    "encoding": {"x": {"field": "cell", "type": "nominal", "scale": {"domain": ["CLB-GA","Kelly","SK-N-AS","CHLA-90"], "paddingInner": 0, "paddingOuter": 0}, "axis": {"title": null, "labelAngle": -45, "labelPadding": 6}}},
    "layer": [
     {"data": {"name": "b"}, "mark": {"type": "bar", "width": 11}, "encoding": {"y": {"field": "m", "type": "quantitative", "scale": {"domain": [0, 20]}, "axis": {"values": [0,4,8,12,16,20], "tickCount": 20, "format": ".4~g", "title": "Relative expression", "titlePadding": 6}}, "color": {"condition": {"test": "datum.cell === 'CLB-GA'", "value": "#000000"}, "value": "#c8c8c8"}}},
     {"data": {"name": "b"}, "mark": {"type": "rule", "strokeWidth": 3.5, "color": "#6e6e6e"}, "encoding": {"y": {"field": "lo", "type": "quantitative"}, "y2": {"field": "hi"}}},
     {"data": {"name": "b_s1"}, "mark": {"type": "text", "fontSize": 17, "baseline": "middle"}, "encoding": {"x": {"field": "c", "type": "nominal"}, "y": {"field": "y", "type": "quantitative"}, "text": {"field": "t"}}},
     {"data": {"name": "b_s2"}, "mark": {"type": "text", "fontSize": 22, "baseline": "middle", "dy": 5}, "encoding": {"x": {"field": "c", "type": "nominal"}, "y": {"field": "y", "type": "quantitative"}, "text": {"field": "t"}}}
    ]
   }]},
  {"title": {"text": "C", "anchor": "start", "fontSize": 20, "fontWeight": "normal", "baseline": "top", "dx": 60, "offset": -4},
   "vconcat": [{
    "width": 111, "height": 104,
    "title": {"text": "MYCN", "offset": 2},
    "encoding": {"x": {"field": "cell", "type": "nominal", "scale": {"domain": ["CLB-GA","Kelly","SK-N-AS","CHLA-90"], "paddingInner": 0, "paddingOuter": 0}, "axis": {"title": null, "labelAngle": -45, "labelPadding": 6}}},
    "layer": [
     {"data": {"name": "c"}, "mark": {"type": "bar", "width": 9}, "encoding": {"y": {"field": "m", "type": "quantitative", "scale": {"domain": [0, 3000]}, "axis": {"values": [0,1000,2000,3000], "tickCount": 20, "format": ".4~g", "title": "Relative expression", "titlePadding": 14}}, "color": {"condition": {"test": "datum.cell === 'CLB-GA'", "value": "#000000"}, "value": "#c8c8c8"}}},
     {"data": {"name": "c"}, "mark": {"type": "rule", "strokeWidth": 3.5, "color": "#6e6e6e"}, "encoding": {"y": {"field": "lo", "type": "quantitative"}, "y2": {"field": "hi"}}},
     {"data": {"name": "c_s"}, "mark": {"type": "text", "fontSize": 24, "baseline": "middle", "dy": 5}, "encoding": {"x": {"field": "c", "type": "nominal"}, "y": {"field": "y", "type": "quantitative"}, "text": {"field": "t"}}}
    ]
   }]},
  {"title": {"text": "D", "anchor": "start", "fontSize": 20, "fontWeight": "normal", "baseline": "top", "dx": 57, "offset": -4},
   "vconcat": [{
    "width": 110, "height": 109,
    "title": {"text": "TERT", "offset": 2},
    "encoding": {"x": {"field": "dose", "type": "nominal", "scale": {"domain": ["0","10","100"], "paddingInner": 0, "paddingOuter": 0}, "axis": {"title": ["CLB-GA", "(Dina, nM, 8 h)"], "titleFontSize": 16, "titleLineHeight": 20, "titlePadding": 3, "labelAngle": 0, "labelPadding": 10, "labelFontSize": 16}}},
    "layer": [
     {"data": {"name": "d"}, "mark": {"type": "bar", "width": 19}, "encoding": {"y": {"field": "m", "type": "quantitative", "scale": {"domain": [0, 1.2]}, "axis": {"values": [0,0.4,0.8,1.2], "tickCount": 20, "format": ".4~g", "title": "Relative expression", "titlePadding": 14}}, "color": {"condition": {"test": "datum.dose === '0'", "value": "#000000"}, "value": "#c8c8c8"}}},
     {"data": {"name": "d"}, "mark": {"type": "rule", "strokeWidth": 3.5, "color": "#6e6e6e"}, "encoding": {"y": {"field": "lo", "type": "quantitative"}, "y2": {"field": "hi"}}},
     {"data": {"name": "d_s"}, "mark": {"type": "text", "fontSize": 24, "angle": 90, "baseline": "middle", "dy": 6}, "encoding": {"y": {"field": "y", "type": "quantitative"}, "text": {"field": "t"}}}
    ]
   }]},
  {"title": {"text": "E", "anchor": "start", "fontSize": 20, "fontWeight": "normal", "baseline": "top", "dx": 57, "offset": -4},
   "vconcat": [{
    "width": 110, "height": 107,
    "title": {"text": "TERT", "offset": 2},
    "encoding": {"x": {"field": "dose", "type": "nominal", "scale": {"domain": ["0","10","100"], "paddingInner": 0, "paddingOuter": 0}, "axis": {"title": ["Kelly", "(Dina, nM, 8 h)"], "titleFontSize": 16, "titleLineHeight": 20, "titlePadding": 3, "labelAngle": 0, "labelPadding": 10, "labelFontSize": 16}}},
    "layer": [
     {"data": {"name": "e"}, "mark": {"type": "bar", "width": 19}, "encoding": {"y": {"field": "m", "type": "quantitative", "scale": {"domain": [0, 1.2]}, "axis": {"values": [0,0.4,0.8,1.2], "tickCount": 20, "format": ".4~g", "title": "Relative expression", "titlePadding": 14}}, "color": {"condition": {"test": "datum.dose === '0'", "value": "#000000"}, "value": "#c8c8c8"}}},
     {"data": {"name": "e"}, "mark": {"type": "rule", "strokeWidth": 3.5, "color": "#6e6e6e"}, "encoding": {"y": {"field": "lo", "type": "quantitative"}, "y2": {"field": "hi"}}},
     {"data": {"name": "e_s"}, "mark": {"type": "text", "fontSize": 24, "angle": 90, "baseline": "middle", "dy": 6}, "encoding": {"y": {"field": "y", "type": "quantitative"}, "text": {"field": "t"}}}
    ]
   }]}
 ], "spacing": 21},
 {
  "width": 923, "height": 135,
  "encoding": {"x": {"field": "kb", "type": "quantitative", "scale": {"domain": [-0.337, 44.12], "nice": false, "zero": false}, "axis": null}},
  "layer": [
   {"data": {"name": "gene_f"}, "mark": {"type": "rule", "color": "#1010f0", "strokeWidth": 2}, "encoding": {"x2": {"field": "kb2"}, "y": {"datum": 4.4, "scale": {"domain": [0, 13.5], "nice": false, "zero": false}, "axis": null}}},
   {"data": {"name": "exons"}, "mark": {"type": "rule", "color": "#1010f0", "strokeWidth": 2.5}, "encoding": {"y": {"datum": 5.7, "axis": null}, "y2": {"datum": 3.2}}},
   {"data": {"name": "utr"}, "mark": {"type": "rect", "color": "#1010f0"}, "encoding": {"x2": {"field": "kb2"}, "y": {"datum": 5.2, "axis": null}, "y2": {"datum": 3.8}}},
   {"data": {"name": "cds"}, "mark": {"type": "rect", "color": "#1010f0"}, "encoding": {"x2": {"field": "kb2"}, "y": {"datum": 5.8, "axis": null}, "y2": {"datum": 3.2}}},
   {"data": {"name": "chev"}, "mark": {"type": "point", "shape": "triangle-left", "filled": true, "size": 28, "color": "#1010f0", "opacity": 1}, "encoding": {"y": {"datum": 4.4, "axis": null}}},
   {"data": {"name": "exon_lbl"}, "mark": {"type": "text", "fontSize": 15, "baseline": "middle"}, "encoding": {"y": {"datum": 6.8, "axis": null}, "text": {"field": "n"}}},
   {"data": {"name": "f_letter"}, "mark": {"type": "text", "fontSize": 20, "baseline": "middle"}, "encoding": {"y": {"datum": 11.4, "axis": null}, "text": {"field": "t"}}},
   {"data": {"name": "f_exons"}, "mark": {"type": "text", "fontSize": 16, "baseline": "middle", "align": "left"}, "encoding": {"y": {"datum": 9.4, "axis": null}, "text": {"field": "t"}}},
   {"data": {"name": "tss"}, "mark": {"type": "rule", "color": "#000000", "strokeWidth": 3}, "encoding": {"y": {"datum": 7.7, "axis": null}, "y2": {"datum": 9.2}}},
   {"data": {"name": "tss"}, "mark": {"type": "rule", "color": "#000000", "strokeWidth": 3}, "encoding": {"x2": {"field": "kb2"}, "y": {"datum": 9.2, "axis": null}}},
   {"data": {"name": "tss_head"}, "mark": {"type": "point", "shape": "triangle-left", "filled": true, "size": 60, "color": "#000000", "opacity": 1}, "encoding": {"y": {"datum": 9.2, "axis": null}}},
   {"data": {"name": "tss_lbl"}, "mark": {"type": "text", "fontSize": 10, "baseline": "middle"}, "encoding": {"y": {"datum": 10.4, "axis": null}, "text": {"field": "t"}}},
   {"data": {"name": "probes"}, "mark": {"type": "tick", "orient": "horizontal", "size": 7, "thickness": 2}, "encoding": {"y": {"datum": 2.4, "axis": null}, "color": {"field": "p", "type": "nominal", "scale": {"domain": ["P1","P2","P3"], "range": ["#c8102e","#1ea84a","#f47a20"]}, "legend": null}}},
   {"data": {"name": "probes"}, "mark": {"type": "text", "fontSize": 15, "fontWeight": "bold", "baseline": "middle"}, "encoding": {"y": {"datum": 1.3, "axis": null}, "text": {"field": "p"}, "color": {"field": "p", "type": "nominal", "legend": null}}}
  ]
 },
 {
  "width": 923, "height": 310,
  "encoding": {"x": {"field": "kb", "type": "quantitative", "scale": {"domain": [-13.776, 50.769], "nice": false, "zero": false}, "axis": null}},
  "resolve": {"scale": {"y": "independent"}},
  "layer": [
   {"encoding": {"y": {"field": "y", "type": "quantitative", "scale": {"domain": [0, 31], "nice": false, "zero": false}, "axis": null}},
    "layer": [
     {"data": {"name": "g_bg"}, "mark": {"type": "rect", "color": "#f4f4f4"}, "encoding": {"x2": {"field": "kb2"}, "y2": {"field": "y2"}}},
     {"data": {"name": "g_ruler"}, "mark": {"type": "rule", "color": "#555555", "strokeWidth": 1.3}, "encoding": {"x2": {"field": "kb2"}, "y2": {"field": "y2"}}},
     {"data": {"name": "g_top"}, "mark": {"type": "rule", "color": "#7a7a7a", "strokeWidth": 2.5}, "encoding": {"x2": {"field": "kb2"}, "y2": {"field": "y2"}}},
     {"data": {"name": "g_bottom"}, "mark": {"type": "rule", "color": "#7a7a7a", "strokeWidth": 1.2}, "encoding": {"x2": {"field": "kb2"}, "y2": {"field": "y2"}}},
     {"data": {"name": "g_base"}, "mark": {"type": "rule", "color": "#c8c8c8", "strokeWidth": 1}, "encoding": {"x2": {"field": "kb2"}, "y2": {"field": "y2"}}},
     {"data": {"name": "g_black"}, "mark": {"type": "rule", "color": "#000000", "strokeWidth": 3.5}, "encoding": {"x2": {"field": "kb2"}, "y2": {"field": "y2"}}},
     {"data": {"name": "g_black2"}, "mark": {"type": "rule", "color": "#000000", "strokeWidth": 2.5}, "encoding": {"x2": {"field": "kb2"}, "y2": {"field": "y2"}}},
     {"data": {"name": "g_head"}, "mark": {"type": "point", "shape": "triangle-left", "filled": true, "size": 50, "color": "#000000", "opacity": 1}},
     {"data": {"name": "gene_g"}, "mark": {"type": "rule", "color": "#2a2aa8", "strokeWidth": 1.5}, "encoding": {"x2": {"field": "kb2"}, "y": {"datum": 4.6, "axis": null}}},
     {"data": {"name": "exons"}, "mark": {"type": "rule", "color": "#0c0c9c", "strokeWidth": 2.5}, "encoding": {"y": {"datum": 5.3, "axis": null}, "y2": {"datum": 3.9}}},
     {"data": {"name": "utr"}, "mark": {"type": "rect", "color": "#0c0c9c"}, "encoding": {"x2": {"field": "kb2"}, "y": {"datum": 4.9, "axis": null}, "y2": {"datum": 4.2}}},
     {"data": {"name": "cds"}, "mark": {"type": "rect", "color": "#0c0c9c"}, "encoding": {"x2": {"field": "kb2"}, "y": {"datum": 5.0, "axis": null}, "y2": {"datum": 4.0}}},
     {"data": {"name": "chev"}, "mark": {"type": "point", "shape": "triangle-left", "filled": true, "size": 12, "color": "#2a2aa8", "opacity": 1}, "encoding": {"y": {"datum": 4.6, "axis": null}}},
     {"data": {"name": "g_letter"}, "mark": {"type": "text", "fontSize": 20, "baseline": "middle"}, "encoding": {"text": {"field": "t"}}},
     {"data": {"name": "g_tc"}, "mark": {"type": "text", "fontSize": 16, "baseline": "middle"}, "encoding": {"text": {"field": "t"}}},
     {"data": {"name": "g_tr"}, "mark": {"type": "text", "fontSize": 16, "baseline": "middle", "align": "right"}, "encoding": {"text": {"field": "t"}}},
     {"data": {"name": "g_scale"}, "mark": {"type": "text", "fontSize": 18, "baseline": "middle", "align": "left"}, "encoding": {"text": {"field": "t"}}}
    ]},
   {"data": {"name": "b4n"}, "mark": {"type": "rect", "color": "#2fc4c4"}, "encoding": {"x2": {"field": "kb2"}, "y": {"field": "v", "type": "quantitative", "scale": {"domain": [-40.179, 15.179], "nice": false, "zero": false}, "axis": null}, "y2": {"datum": 0}}},
   {"data": {"name": "b4p"}, "mark": {"type": "rect", "color": "#111111"}, "encoding": {"x2": {"field": "kb2"}, "y": {"field": "v", "type": "quantitative", "scale": {"domain": [-34.821, 20.536], "nice": false, "zero": false}, "axis": null}, "y2": {"datum": 0}}},
   {"data": {"name": "k27n"}, "mark": {"type": "area", "color": "#ff1aff", "line": {"color": "#d75ed7", "strokeWidth": 1}}, "encoding": {"y": {"field": "v", "type": "quantitative", "scale": {"domain": [-58.571, 52.143], "nice": false, "zero": false}, "axis": null}, "y2": {"datum": 0}}},
   {"data": {"name": "k27p"}, "mark": {"type": "area", "color": "#5a5a5a", "line": {"color": "#9a9a9a", "strokeWidth": 1}}, "encoding": {"y": {"field": "v", "type": "quantitative", "scale": {"domain": [-47.857, 62.857], "nice": false, "zero": false}, "axis": null}, "y2": {"datum": 0}}},
   {"data": {"name": "k36n"}, "mark": {"type": "area", "color": "#f7961c", "line": {"color": "#f7961c", "strokeWidth": 1}}, "encoding": {"y": {"field": "v", "type": "quantitative", "scale": {"domain": [-36.786, 73.929], "nice": false, "zero": false}, "axis": null}, "y2": {"datum": 0}}},
   {"data": {"name": "k36p"}, "mark": {"type": "area", "color": "#c8c8c8", "line": {"color": "#b4b4b4", "strokeWidth": 1}}, "encoding": {"y": {"field": "v", "type": "quantitative", "scale": {"domain": [-26.071, 84.643], "nice": false, "zero": false}, "axis": null}, "y2": {"datum": 0}}}
  ]
 },
 {"hconcat": [
  {"title": {"text": "H", "anchor": "start", "fontSize": 20, "fontWeight": "normal", "baseline": "top", "dx": 68, "offset": 8},
   "resolve": {"scale": {"color": "independent"}, "legend": {"color": "independent"}},
   "vconcat": [{
    "width": 238, "height": 97,
    "encoding": {"x": {"field": "cat", "type": "nominal", "scale": {"domain": ["IgG-P1","IgG-P2","IgG-P3","Brd4-P1","Brd4-P2","Brd4-P3"], "paddingInner": 0, "paddingOuter": 0}, "axis": {"labelExpr": "slice(datum.label, -2)", "labelAngle": 0, "labelPadding": 10, "labelFontSize": 17.5, "title": "CLB-GA (Dina, 10 nM, 8 h)", "titleFontSize": 18, "titlePadding": 42}}},
    "layer": [
     {"data": {"name": "h"}, "mark": "bar", "encoding": {"xOffset": {"field": "cond", "type": "nominal", "scale": {"domain": ["Control","Dinaciclib"], "paddingInner": 0.28, "paddingOuter": 0.56}}, "y": {"field": "m", "type": "quantitative", "scale": {"domain": [0, 0.12]}, "axis": {"values": [0,0.04,0.08,0.12], "tickCount": 20, "format": ".4~g", "title": "% of Input", "labelFontSize": 17.5, "titleFontSize": 18, "labelPadding": 12, "titlePadding": 8}}, "color": {"field": "cond", "type": "nominal", "scale": {"domain": ["Control","Dinaciclib"], "range": ["#000000","#c8c8c8"]}, "legend": {"orient": "none", "legendX": 32, "legendY": 12, "title": null, "symbolType": "square", "symbolSize": 100, "symbolStrokeWidth": 0, "labelFontSize": 18, "rowPadding": 3, "padding": 0}}}},
     {"data": {"name": "h"}, "mark": {"type": "rule", "strokeWidth": 3, "color": "#6e6e6e"}, "encoding": {"xOffset": {"field": "cond", "type": "nominal"}, "y": {"field": "lo", "type": "quantitative"}, "y2": {"field": "hi"}}},
     {"data": {"name": "h_s"}, "mark": {"type": "text", "fontSize": 24, "angle": 90, "baseline": "middle", "dy": 6}, "encoding": {"xOffset": {"field": "cond", "type": "nominal"}, "y": {"field": "y", "type": "quantitative"}, "text": {"field": "t"}}},
     {"data": {"name": "h_g"}, "mark": {"type": "text", "fontSize": 18, "baseline": "middle"}, "encoding": {"y": {"datum": -0.067}, "text": {"field": "g"}}},
     {"data": {"name": "h_sep"}, "mark": {"type": "rule", "strokeWidth": 1.5, "color": "#8c8c8c"}, "encoding": {"x": {"field": "cat", "type": "nominal", "bandPosition": 0}, "y": {"datum": 0}, "y2": {"datum": -0.079}}},
     {"data": {"name": "h_sepr"}, "mark": {"type": "rule", "strokeWidth": 1.5, "color": "#8c8c8c"}, "encoding": {"x": {"field": "cat", "type": "nominal", "bandPosition": 1}, "y": {"datum": 0}, "y2": {"datum": -0.079}}}
    ]
   }]},
  {"title": {"text": "I", "anchor": "start", "fontSize": 20, "fontWeight": "normal", "baseline": "top", "dx": 65, "offset": 8},
   "resolve": {"scale": {"color": "independent"}, "legend": {"color": "independent"}},
   "vconcat": [{
    "width": 265, "height": 88,
    "encoding": {"x": {"field": "cat", "type": "nominal", "scale": {"domain": ["IgG-P1","IgG-P2","IgG-P3","H3K27Ac-P1","H3K27Ac-P2","H3K27Ac-P3"], "paddingInner": 0, "paddingOuter": 0}, "axis": {"labelExpr": "slice(datum.label, -2)", "labelAngle": 0, "labelPadding": 10, "labelFontSize": 17.5, "title": "CLB-GA (Dina, 10 nM, 8 h)", "titleFontSize": 18, "titlePadding": 42}}},
    "layer": [
     {"data": {"name": "i"}, "mark": "bar", "encoding": {"xOffset": {"field": "cond", "type": "nominal", "scale": {"domain": ["Control","Dinaciclib"], "paddingInner": 0.23, "paddingOuter": 0.8}}, "y": {"field": "m", "type": "quantitative", "scale": {"domain": [0, 1.5]}, "axis": {"values": [0,0.5,1,1.5], "tickCount": 20, "format": ".4~g", "title": "% of Input", "labelFontSize": 17.5, "titleFontSize": 18, "labelPadding": 12, "titlePadding": 8}}, "color": {"field": "cond", "type": "nominal", "scale": {"domain": ["Control","Dinaciclib"], "range": ["#000000","#c8c8c8"]}, "legend": {"orient": "none", "legendX": 32, "legendY": 12, "title": null, "symbolType": "square", "symbolSize": 100, "symbolStrokeWidth": 0, "labelFontSize": 18, "rowPadding": 3, "padding": 0}}}},
     {"data": {"name": "i"}, "mark": {"type": "rule", "strokeWidth": 3, "color": "#6e6e6e"}, "encoding": {"xOffset": {"field": "cond", "type": "nominal"}, "y": {"field": "lo", "type": "quantitative"}, "y2": {"field": "hi"}}},
     {"data": {"name": "i_s"}, "mark": {"type": "text", "fontSize": 24, "angle": 90, "baseline": "middle", "dy": 6}, "encoding": {"xOffset": {"field": "cond", "type": "nominal"}, "y": {"field": "y", "type": "quantitative"}, "text": {"field": "t"}}},
     {"data": {"name": "i_g"}, "mark": {"type": "text", "fontSize": 18, "baseline": "middle"}, "encoding": {"y": {"datum": -0.92}, "text": {"field": "g"}}},
     {"data": {"name": "i_sep"}, "mark": {"type": "rule", "strokeWidth": 1.5, "color": "#8c8c8c"}, "encoding": {"x": {"field": "cat", "type": "nominal", "bandPosition": 0}, "y": {"datum": 0}, "y2": {"datum": -1.09}}},
     {"data": {"name": "i_sepr"}, "mark": {"type": "rule", "strokeWidth": 1.5, "color": "#8c8c8c"}, "encoding": {"x": {"field": "cat", "type": "nominal", "bandPosition": 1}, "y": {"datum": 0}, "y2": {"datum": -1.09}}}
    ]
   }]},
  {"title": {"text": "J", "anchor": "start", "fontSize": 20, "fontWeight": "normal", "baseline": "top", "dx": 73, "offset": 8},
   "resolve": {"scale": {"color": "independent"}, "legend": {"color": "independent"}},
   "vconcat": [{
    "width": 290, "height": 91,
    "encoding": {"x": {"field": "cat", "type": "nominal", "scale": {"domain": ["IgG-P1","IgG-P2","IgG-P3","H3K36me3-P1","H3K36me3-P2","H3K36me3-P3"], "paddingInner": 0, "paddingOuter": 0}, "axis": {"labelExpr": "slice(datum.label, -2)", "labelAngle": 0, "labelPadding": 10, "labelFontSize": 17.5, "title": "CLB-GA (Dina, 10 nM, 8 h)", "titleFontSize": 18, "titlePadding": 42}}},
    "layer": [
     {"data": {"name": "j"}, "mark": "bar", "encoding": {"xOffset": {"field": "cond", "type": "nominal", "scale": {"domain": ["Control","Dinaciclib"], "paddingInner": 0.27, "paddingOuter": 0.75}}, "y": {"field": "m", "type": "quantitative", "scale": {"domain": [0, 1.6]}, "axis": {"values": [0,0.4,0.8,1.2,1.6], "tickCount": 20, "format": ".4~g", "title": "% of Input", "labelFontSize": 17.5, "titleFontSize": 18, "labelPadding": 12, "titlePadding": 8}}, "color": {"field": "cond", "type": "nominal", "scale": {"domain": ["Control","Dinaciclib"], "range": ["#000000","#c8c8c8"]}, "legend": {"orient": "none", "legendX": 32, "legendY": 6, "title": null, "symbolType": "square", "symbolSize": 100, "symbolStrokeWidth": 0, "labelFontSize": 18, "rowPadding": 3, "padding": 0}}}},
     {"data": {"name": "j"}, "mark": {"type": "rule", "strokeWidth": 3, "color": "#6e6e6e"}, "encoding": {"xOffset": {"field": "cond", "type": "nominal"}, "y": {"field": "lo", "type": "quantitative"}, "y2": {"field": "hi"}}},
     {"data": {"name": "j_s"}, "mark": {"type": "text", "fontSize": 24, "angle": 90, "baseline": "middle", "dy": 6}, "encoding": {"xOffset": {"field": "cond", "type": "nominal"}, "y": {"field": "y", "type": "quantitative"}, "text": {"field": "t"}}},
     {"data": {"name": "j_g"}, "mark": {"type": "text", "fontSize": 18, "baseline": "middle"}, "encoding": {"y": {"datum": -0.97}, "text": {"field": "g"}}},
     {"data": {"name": "j_sep"}, "mark": {"type": "rule", "strokeWidth": 1.5, "color": "#8c8c8c"}, "encoding": {"x": {"field": "cat", "type": "nominal", "bandPosition": 0}, "y": {"datum": 0}, "y2": {"datum": -1.14}}},
     {"data": {"name": "j_sepr"}, "mark": {"type": "rule", "strokeWidth": 1.5, "color": "#8c8c8c"}, "encoding": {"x": {"field": "cat", "type": "nominal", "bandPosition": 1}, "y": {"datum": 0}, "y2": {"datum": -1.14}}}
    ]
   }]}
 ], "spacing": 26, "resolve": {"scale": {"color": "independent"}, "legend": {"color": "independent"}}}
]
}
